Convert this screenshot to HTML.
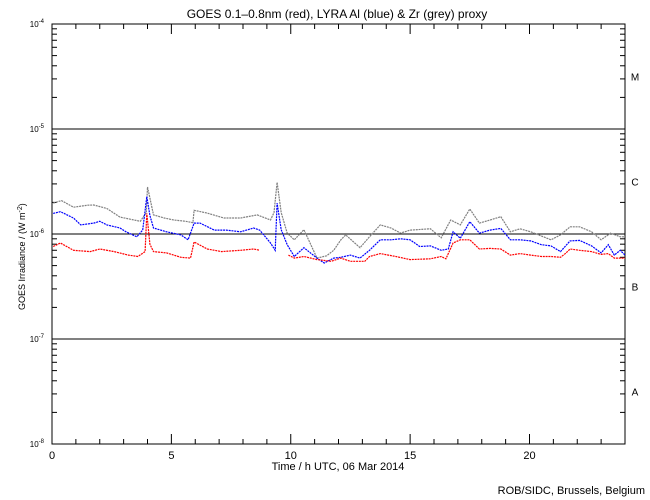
<!DOCTYPE html>
<html><head><meta charset="utf-8"><style>
body{margin:0;background:#fff;}
svg{display:block;font-family:"Liberation Sans",sans-serif;}
</style></head><body>
<svg id="chart" width="650" height="500" viewBox="0 0 650 500" xmlns="http://www.w3.org/2000/svg">
<rect width="650" height="500" fill="#fff"/>
<text x="337" y="18" font-size="12" text-anchor="middle">GOES 0.1–0.8nm (red), LYRA Al (blue) &amp; Zr (grey) proxy</text>
<text x="338" y="470" font-size="11" text-anchor="middle">Time / h UTC, 06 Mar 2014</text>
<text x="645" y="494" font-size="11" text-anchor="end">ROB/SIDC, Brussels, Belgium</text>
<text transform="translate(25,310) rotate(-90)" font-size="9">GOES Irradiance / (W m<tspan baseline-shift="super" font-size="7">-2</tspan>)</text>
<g id="axes"></g>
<g id="series"></g>
</svg>
<script>
// data: hours and irradiance (units of 1e-6 W m^-2); null = gap
const greyHours=[0.05,0.4,0.9,1.5,1.75,2.3,2.85,3.3,3.7,3.95,4.0,4.1,4.25,4.7,5.1,5.6,5.9,5.95,6.5,7.2,7.9,8.6,9.15,9.3,9.43,9.6,9.85,10.15,10.55,11.1,11.5,11.8,12.1,12.3,12.9,13.3,13.75,14.2,14.6,15.0,15.85,16.3,16.7,17.1,17.5,17.9,18.35,18.8,19.2,19.6,20.05,20.9,21.3,21.7,22.1,22.6,23.0,23.4,23.8,24];
const greyValues=[1.97,2.08,1.80,1.88,1.89,1.75,1.45,1.38,1.32,1.6,2.8,2.2,1.52,1.42,1.36,1.32,1.28,1.68,1.58,1.42,1.42,1.52,1.36,1.6,3.1,1.6,1.02,0.88,1.1,0.59,0.62,0.70,0.88,0.98,0.74,0.94,1.22,1.14,1.02,1.09,1.12,0.92,1.36,1.22,1.73,1.27,1.36,1.46,1.05,1.12,1.05,0.88,0.98,1.17,1.17,1.05,0.88,1.02,0.94,0.94];
const blueHours=[0.05,0.35,0.9,1.2,1.75,2.0,2.3,2.85,3.1,3.55,3.8,3.97,4.1,4.25,4.8,5.4,5.7,5.95,6.2,6.8,7.3,7.9,8.45,8.7,9.15,9.35,9.43,9.6,9.85,10.15,10.55,11.1,11.4,11.8,12.1,12.5,12.9,13.3,13.75,14.2,14.6,15.0,15.4,15.85,16.3,16.6,16.8,17.1,17.5,17.9,18.35,18.8,19.2,19.6,20.05,20.5,20.9,21.3,21.7,22.1,22.6,23.0,23.3,23.55,23.8,24];
const blueValues=[1.57,1.63,1.42,1.22,1.27,1.32,1.22,1.14,1.05,0.94,1.09,2.27,1.5,1.14,1.05,0.98,0.88,1.27,1.27,1.09,1.09,1.05,1.14,1.09,0.82,0.70,1.97,1.1,0.79,0.61,0.74,0.59,0.53,0.59,0.6,0.63,0.59,0.70,0.88,0.88,0.9,0.88,0.76,0.77,0.70,0.72,1.05,0.91,1.31,1.02,1.09,1.13,0.88,0.88,0.86,0.79,0.77,0.68,0.86,0.87,0.77,0.66,0.79,0.63,0.70,0.63];
const redHours=[0.05,0.35,0.9,1.6,2.0,2.6,3.2,3.6,3.9,3.97,4.1,4.25,4.8,5.4,5.8,5.95,6.5,7.1,7.9,8.45,8.7,9.3,9.9,10.15,10.55,11.1,11.7,12.1,12.5,13.1,13.3,13.75,14.4,15.0,15.85,16.3,16.5,16.8,17.1,17.5,17.9,18.35,18.8,19.2,19.6,20.05,20.5,20.9,21.3,21.5,21.7,22.1,22.6,23.0,23.3,23.55,24];
const redValues=[0.76,0.82,0.70,0.68,0.72,0.68,0.63,0.61,0.68,1.57,0.8,0.68,0.66,0.60,0.59,0.84,0.72,0.68,0.70,0.72,0.70,null,0.63,0.59,0.61,0.57,0.55,0.59,0.55,0.55,0.61,0.65,0.61,0.57,0.58,0.61,0.58,0.82,0.88,0.88,0.72,0.73,0.72,0.63,0.65,0.63,0.61,0.61,0.60,0.65,0.72,0.70,0.68,0.64,0.65,0.59,0.59];
const xTickLabels=["0","5","10","15","20"];
const yTickExps=[-4,-5,-6,-7,-8];
const classLabels=["M","C","B","A"];

const NS="http://www.w3.org/2000/svg";
const X0=52,X1=625,Y0=24,Y1=444;
const xScale=h=>X0+h*(X1-X0)/24;
const yScale=v=>Y0+(-4-Math.log10(v*1e-6))*(Y1-Y0)/4;
function mk(tag,attrs,parent){const e=document.createElementNS(NS,tag);for(const k in attrs)e.setAttribute(k,attrs[k]);parent.appendChild(e);return e;}
const axes=document.getElementById('axes');
const frame=mk('rect',{x:X0,y:Y0,width:X1-X0,height:Y1-Y0,fill:'none',stroke:'#000','stroke-width':1},axes);


for(let h=0;h<=24;h++){
  const x=xScale(h),len=(h%5===0)?10:5;
  const t1=mk('line',{x1:x,x2:x,y1:Y1,y2:Y1-len,stroke:'#000'},axes);
  
  
  const t2=mk('line',{x1:x,x2:x,y1:Y0,y2:Y0+len,stroke:'#000'},axes);
  
  
}
xTickLabels.forEach(s=>{
  const t=mk('text',{x:xScale(+s),y:Y1+15,'font-size':11,'text-anchor':'middle'},axes);
  t.textContent=s;
  
  
});
yTickExps.forEach(e=>{
  const y=yScale(Math.pow(10,e+6));
  if(e!==-4&&e!==-8){
    const g=mk('line',{x1:X0,x2:X1,y1:y,y2:y,stroke:'#000'},axes);
    
    
  }
  const t=mk('text',{x:44,y:y+3,'font-size':8,'text-anchor':'end'},axes);
  t.textContent='10';
  const sp=mk('tspan',{dy:-4,'font-size':6},t);
  sp.textContent=String(e);
  
  
  if(e>-8){
    for(let m=2;m<=9;m++){
      const yy=yScale(m*Math.pow(10,e-1+6));
      const a=mk('line',{x1:X0,x2:X0+5,y1:yy,y2:yy,stroke:'#000'},axes);
      
      
      const b=mk('line',{x1:X1,x2:X1-5,y1:yy,y2:yy,stroke:'#000'},axes);
      
      
    }
  }
});
classLabels.forEach((c,i)=>{
  const y=(yScale(Math.pow(10,2-i))+yScale(Math.pow(10,1-i)))/2;
  const t=mk('text',{x:635,y:y+4,'font-size':10,'text-anchor':'middle'},axes);
  t.textContent=c;
  
  
});
const sg=document.getElementById('series');
function drawSeries(hours,vals,color,name){
  let d='',pen=false;
  hours.forEach((h,i)=>{
    const v=vals[i];
    if(v==null){pen=false;return;}
    d+=(pen?'L':'M')+xScale(h).toFixed(1)+' '+yScale(v).toFixed(1)+' ';
    pen=true;
  });
  const p=mk('path',{d:d,fill:'none',stroke:color,'stroke-width':1.2,'stroke-dasharray':'2 0.8'},sg);
  
  
}
drawSeries(greyHours,greyValues,'#808080','zr-grey-series');
drawSeries(blueHours,blueValues,'#0000ff','al-blue-series');
drawSeries(redHours,redValues,'#ff0000','goes-red-series');
</script>
</body></html>
